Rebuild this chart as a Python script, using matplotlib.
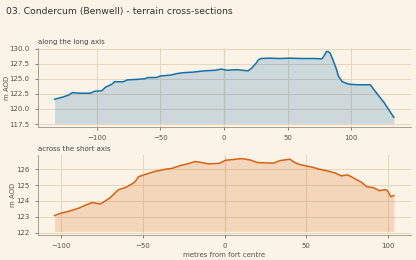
import matplotlib
matplotlib.use("Agg")
import matplotlib.pyplot as plt

# long axis profile (m from fort centre, m AOD)
longX = [-133, -126, -122, -119, -113, -105, -102, -96, -93, -90, -88, -86, -79, -76,
         -68, -62, -60, -53, -50, -42, -37, -32, -24, -16, -7, -2, 2, 10, 19, 22,
         25, 27, 29, 35, 44, 52, 60, 70, 77, 79, 80.5, 82, 83.5, 85.5, 88, 90, 93,
         98, 105, 115, 120, 126, 133.5]
longY = [121.6, 122.0, 122.3, 122.7, 122.6, 122.6, 122.9, 123.0, 123.6, 123.9, 124.1,
         124.5, 124.5, 124.8, 124.9, 125.0, 125.2, 125.2, 125.45, 125.6, 125.85, 126.0,
         126.1, 126.3, 126.4, 126.6, 126.4, 126.5, 126.3, 126.8, 127.5, 128.1, 128.35,
         128.4, 128.35, 128.4, 128.35, 128.35, 128.3, 128.9, 129.5, 129.5, 129.2, 128.2,
         126.8, 125.4, 124.5, 124.1, 124.0, 124.0, 122.6, 121.0, 118.6]

# short axis profile
shortX = [-104, -100, -96, -93, -89, -86, -81, -79, -76, -73, -70, -65, -60, -55,
          -52.5, -48, -43, -36, -32, -27, -22, -18, -15, -10, -3, 0.5, 4.5, 10.5,
          15.7, 20, 24, 30, 34, 40, 42, 45, 50, 54, 58, 63, 67.5, 71.5, 75.5, 77.7,
          80.7, 83.8, 87.2, 91, 95, 98.6, 100, 102, 103.7]
shortY = [123.08, 123.23, 123.33, 123.42, 123.55, 123.69, 123.9, 123.86, 123.8, 124.0,
          124.2, 124.7, 124.87, 125.18, 125.53, 125.68, 125.85, 126.0, 126.05, 126.23,
          126.35, 126.48, 126.44, 126.33, 126.37, 126.56, 126.6, 126.67, 126.58, 126.42,
          126.4, 126.38, 126.54, 126.63, 126.48, 126.33, 126.2, 126.12, 126.0, 125.89,
          125.77, 125.58, 125.64, 125.52, 125.35, 125.18, 124.89, 124.84, 124.64, 124.72,
          124.6, 124.26, 124.34]

bg = "#fbf3e6"
gridCol = "#e6d6bd"
textCol = "#5b5148"

plt.rcParams["font.family"] = "DejaVu Sans"
plt.rcParams["font.size"] = 5

fig = plt.figure(figsize=(4.16, 2.6), dpi=100, facecolor=bg)
axTop = fig.add_axes([0.0906, 0.5115, 0.897, 0.304])
axBot = fig.add_axes([0.0906, 0.0962, 0.897, 0.308])

panels = [
    (axTop, longX, longY, "#1170aa", "along the long axis", [117.5, 120.0, 122.5, 125.0, 127.5, 130.0], "{:.1f}", -0.074),
    (axBot, shortX, shortY, "#d9620f", "across the short axis", [122, 123, 124, 125, 126], "{:.0f}", -0.058),
]

for ax, xs, ys, col, ttl, yt, fmt, labx in panels:
    ax.set_facecolor(bg)
    base = min(ys) - 1
    ax.fill_between(xs, ys, base, color=col, alpha=0.2, linewidth=0)
    ax.plot(xs, ys, color=col, linewidth=1.1)
    ax.axvline(0, color="#a8988a", linewidth=0.8, zorder=0.5)
    ax.set_yticks(yt)
    ax.set_yticklabels([fmt.format(v) for v in yt])
    ax.grid(True, color=gridCol, linewidth=0.7)
    ax.set_axisbelow(True)
    for s in ["top", "right"]:
        ax.spines[s].set_visible(False)
    for s in ["left", "bottom"]:
        ax.spines[s].set_color("#9a8f84")
        ax.spines[s].set_linewidth(0.6)
    ax.tick_params(colors=textCol, labelsize=5, length=2.5, width=0.5)
    ax.set_ylabel("m AOD", fontsize=5, color=textCol)
    ax.yaxis.set_label_coords(labx, 0.5)
    ax.set_title(ttl, fontsize=5, color="#444444", loc="left", pad=3)

axTop.set_xticks([-100, -50, 0, 50, 100])
axBot.set_xticks([-100, -50, 0, 50, 100])
axBot.set_xlabel("metres from fort centre", fontsize=5, color=textCol, labelpad=2)

fig.text(0.014, 0.955, "03. Condercum (Benwell) - terrain cross-sections",
         fontsize=6.7, color="#333333", ha="left", va="center")

fig.savefig("out.png", dpi=100, facecolor=bg)
